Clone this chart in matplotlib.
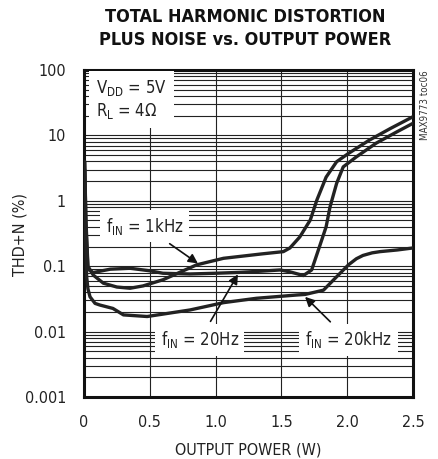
import matplotlib
matplotlib.use('Agg')
import matplotlib.pyplot as plt
from matplotlib.ticker import LogLocator, NullFormatter

plt.rcParams['font.family'] = ['DejaVu Sans']
plt.rcParams['font.stretch'] = 'condensed'

# THD+N (%) vs output power (W)
p_1k = [0.005, 0.015, 0.03, 0.071, 0.147, 0.25, 0.35, 0.45, 0.60, 0.857, 1.06, 1.35,
        1.515, 1.565, 1.64, 1.72, 1.77, 1.84, 1.92, 2.01, 2.17, 2.33, 2.5]
thd_1k = [4.0, 0.5, 0.1, 0.073, 0.055, 0.048, 0.046, 0.05, 0.062, 0.105, 0.132, 0.154,
          0.167, 0.19, 0.28, 0.51, 1.03, 2.3, 3.96, 5.3, 8.5, 12.8, 19.3]

p_20 = [0.005, 0.015, 0.03, 0.07, 0.2, 0.35, 0.5, 0.6, 0.805, 1.0, 1.185, 1.35, 1.49,
        1.565, 1.667, 1.73, 1.79, 1.84, 1.87, 1.92, 1.97, 2.07, 2.22, 2.38, 2.5]
thd_20 = [4.0, 0.4, 0.09, 0.08, 0.09, 0.093, 0.085, 0.078, 0.076, 0.078, 0.0805, 0.084, 0.0875,
          0.082, 0.072, 0.0875, 0.2, 0.40, 0.81, 1.85, 3.3, 4.7, 7.6, 11.4, 15.3]

p_20k = [0.005, 0.012, 0.02, 0.03, 0.046, 0.084, 0.12, 0.22, 0.30, 0.48, 0.805, 1.06,
         1.31, 1.62, 1.68, 1.82, 1.92, 2.01, 2.07, 2.12, 2.19, 2.25, 2.38, 2.5]
thd_20k = [3.0, 0.3, 0.07, 0.045, 0.034, 0.027, 0.0255, 0.0226, 0.018, 0.017, 0.0214, 0.0277,
           0.0323, 0.0363, 0.037, 0.043, 0.069, 0.105, 0.13, 0.146, 0.16, 0.167, 0.177, 0.19]

x_ticks = [0, 0.5, 1.0, 1.5, 2.0, 2.5]
x_labels = ['0', '0.5', '1.0', '1.5', '2.0', '2.5']
y_ticks = [0.001, 0.01, 0.1, 1, 10, 100]
y_labels = ['0.001', '0.01', '0.1', '1', '10', '100']

fig = plt.figure(figsize=(4.39, 4.59), dpi=100)
ax = fig.add_axes([0.1913, 0.1351, 0.7494, 0.7124])

line_kw = dict(color='#222222', lw=2.4, solid_joinstyle='round', solid_capstyle='round', zorder=3)
ax.plot(p_1k, thd_1k, **line_kw)
ax.plot(p_20, thd_20, **line_kw)
ax.plot(p_20k, thd_20k, **line_kw)

ax.set_yscale('log')
ax.set_xlim(0, 2.5)
ax.set_ylim(0.001, 100)
ax.set_xticks(x_ticks)
ax.set_xticklabels(x_labels)
ax.set_yticks(y_ticks)
ax.set_yticklabels(y_labels)
ax.yaxis.set_minor_locator(LogLocator(base=10, subs=[2, 3, 4, 5, 6, 7, 8, 9]))
ax.yaxis.set_minor_formatter(NullFormatter())
ax.tick_params(which='both', length=0, labelsize=11.5, colors='#222222')
ax.tick_params(axis='x', pad=13)
ax.tick_params(axis='y', pad=13)

ax.grid(True, which='both', axis='y', color='#222222', lw=0.8, zorder=1)
ax.grid(True, which='major', axis='x', color='#222222', lw=0.8, zorder=1)
for s in ax.spines.values():
    s.set_linewidth(2.2)
    s.set_color('#111111')

ax.set_xlabel('OUTPUT POWER (W)', fontsize=11.5, color='#222222', labelpad=9)
fig.text(0.046, 0.49, 'THD+N (%)', rotation=90, ha='center', va='center',
         fontsize=11.5, color='#222222')

fig.text(0.558, 0.962, 'TOTAL HARMONIC DISTORTION', ha='center', va='center',
         fontsize=13, fontweight='bold', color='#111111')
fig.text(0.558, 0.913, 'PLUS NOISE vs. OUTPUT POWER', ha='center', va='center',
         fontsize=13, fontweight='bold', color='#111111')
fig.text(0.968, 0.847, 'MAX9773 toc06', rotation=90, ha='center', va='top',
         fontsize=7, color='#333333')

box = dict(facecolor='white', edgecolor='none', pad=4)
ax.text(0.09, 35, 'V$_\\mathregular{DD}$ = 5V\nR$_\\mathregular{L}$ = 4\u03a9', fontsize=12,
        va='center', ha='left', color='#222222', linespacing=1.2, zorder=4,
        bbox=dict(facecolor='white', edgecolor='none', pad=5))

ax.annotate('f$_\\mathregular{IN}$ = 1kHz', xy=(0.866, 0.11), xytext=(0.46, 0.41),
            fontsize=12, ha='center', va='center', color='#222222', zorder=4, bbox=box,
            arrowprops=dict(arrowstyle='-|>', color='#111111', lw=1.2, mutation_scale=14,
                            shrinkA=2, shrinkB=0))
ax.annotate('f$_\\mathregular{IN}$ = 20Hz', xy=(1.17, 0.075), xytext=(0.88, 0.0075),
            fontsize=12, ha='center', va='center', color='#222222', zorder=4, bbox=box,
            arrowprops=dict(arrowstyle='-|>', color='#111111', lw=1.2, mutation_scale=14,
                            shrinkA=2, shrinkB=0))
ax.annotate('f$_\\mathregular{IN}$ = 20kHz', xy=(1.68, 0.034), xytext=(2.01, 0.0075),
            fontsize=12, ha='center', va='center', color='#222222', zorder=4, bbox=box,
            arrowprops=dict(arrowstyle='-|>', color='#111111', lw=1.2, mutation_scale=14,
                            shrinkA=2, shrinkB=0))

fig.savefig('out.png', dpi=100)
